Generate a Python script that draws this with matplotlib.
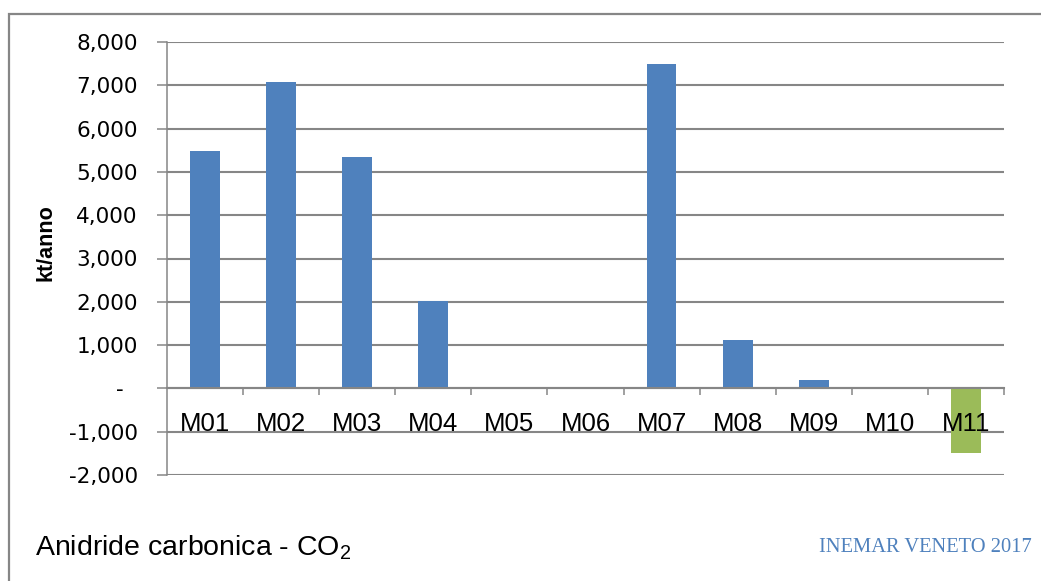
import matplotlib.pyplot as plt
from matplotlib.patches import Rectangle
from matplotlib.ticker import FixedLocator
from matplotlib.transforms import blended_transform_factory

plt.rcParams["mathtext.default"] = "regular"

# emissions by macrosector, kt/anno
SECTORS = ["M01", "M02", "M03", "M04", "M05", "M06", "M07", "M08", "M09", "M10", "M11"]
VALUES = [5490, 7085, 5350, 2020, 0, 0, 7500, 1120, 190, 0, -1485]
Y_TICKS = [-2000, -1000, 0, 1000, 2000, 3000, 4000, 5000, 6000, 7000, 8000]

BLUE = "#4F81BD"
GREEN = "#9BBB59"
GRAY = "#868686"

W, H = 1041, 581
fig = plt.figure(figsize=(W / 100, H / 100), dpi=100)

# plot area in pixels: x 167..1004, y 42..475
ax = fig.add_axes([167 / W, 1 - 475 / H, (1004 - 167) / W, (475 - 42) / H])

colors = [GREEN if v < 0 else BLUE for v in VALUES]
ax.bar(range(len(SECTORS)), VALUES, width=0.39, color=colors, zorder=3)

ax.set_xlim(-0.5, len(SECTORS) - 0.5)
ax.set_ylim(Y_TICKS[0], Y_TICKS[-1])

def fmt(v):
    if v == 0:
        return "-  "
    return f"{v:,}"

ax.set_yticks(Y_TICKS)
ax.set_yticklabels([fmt(v) for v in Y_TICKS], fontsize=15.5, family="DejaVu Sans")
ax.yaxis.grid(True, color=GRAY, lw=1.5)
ax.tick_params(axis="y", direction="out", length=7, width=1.1, color=GRAY, pad=14)

# category axis sits on zero, ticks at category boundaries
ax.spines["bottom"].set_position(("data", 0))
ax.set_xticks([])
ax.xaxis.set_minor_locator(FixedLocator([i + 0.5 for i in range(len(SECTORS))]))
ax.tick_params(axis="x", which="minor", direction="out", length=5, width=1.1, color=GRAY)

# category names drawn above the bars
lab_tr = blended_transform_factory(ax.transData, fig.transFigure)
for i, name in enumerate(SECTORS):
    ax.text(i, 1 - 424 / H, name, transform=lab_tr, fontsize=18.5,
            family="Liberation Sans", ha="center", va="center", zorder=6)

for s in ["top", "right"]:
    ax.spines[s].set_visible(False)
ax.spines["left"].set_color(GRAY)
ax.spines["left"].set_linewidth(1.1)
ax.spines["bottom"].set_color(GRAY)
ax.spines["bottom"].set_linewidth(1.5)
ax.spines["bottom"].set_zorder(4)

fig.text(46 / W, 1 - 243 / H, "kt/anno", rotation=90, fontsize=15.5, fontweight="bold",
         family="Liberation Sans", ha="center", va="center")

fig.text(35 / W, 1 - 548 / H, "Anidride carbonica - CO$_2$", fontsize=20.5,
         family=["Liberation Sans Narrow", "Liberation Sans"], ha="left", va="center")
fig.text(1032 / W, 1 - 547 / H, "INEMAR VENETO 2017", fontsize=14.8,
         family="Liberation Serif", color=BLUE, ha="right", va="center")

# outer chart frame
fig.patches.append(Rectangle((9 / W, -0.1), 1.2, 1 - 14 / H + 0.1, transform=fig.transFigure,
                             fill=False, edgecolor=GRAY, lw=1.6))

fig.savefig("out.png", dpi=100)
